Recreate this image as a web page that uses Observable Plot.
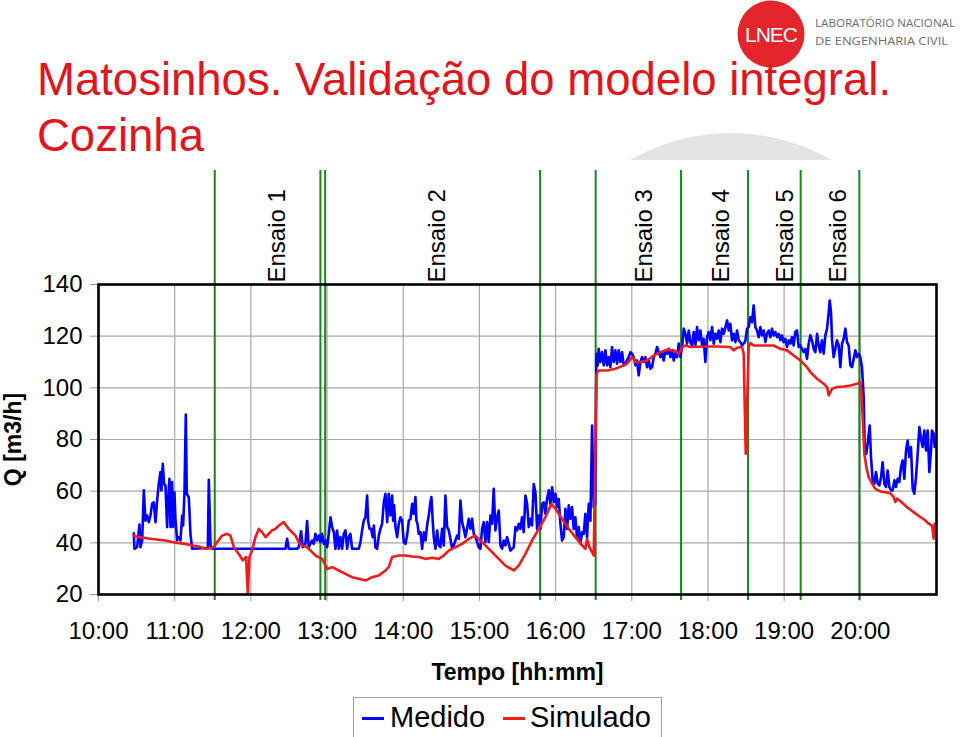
<!DOCTYPE html>
<html><head><meta charset="utf-8">
<script src="https://cdn.jsdelivr.net/npm/d3@7"></script>
<script src="https://cdn.jsdelivr.net/npm/@observablehq/plot@0.6"></script>
<style>
body{margin:0;background:#fff;font-family:"Liberation Sans",Arial,sans-serif;}
#page{position:relative;width:960px;height:737px;overflow:hidden;background:#fff;}
#header{position:absolute;left:0;top:0;}
#chart{position:absolute;left:0;top:160px;}
#chart g[aria-label="x-axis label"] text,#chart g[aria-label="y-axis label"] text{font-weight:bold;font-size:23px;}
#legend{position:absolute;left:353px;top:697px;width:309px;height:46px;border:1px solid #a0a0a0;box-sizing:border-box;background:#fff;}
#legend .sw{position:absolute;top:19px;width:22px;height:3px;}
#legend .lb{position:absolute;top:2px;font-size:29px;line-height:34px;color:#000;}
</style></head>
<body><div id="page">
<svg id="header" width="960" height="160">
  <circle cx="731" cy="335" r="202" fill="#e4e4e4"/>
  <circle cx="771" cy="34" r="33.5" fill="#e3262b"/>
  <text x="771" y="42" fill="#fff" font-size="21" text-anchor="middle" font-family="Liberation Sans, Arial, sans-serif" letter-spacing="-1">LNEC</text>
  <text x="815" y="27" fill="#6d6e71" font-size="11.6" font-family="Open Sans, sans-serif" textLength="140" lengthAdjust="spacingAndGlyphs">LABORATÓRIO NACIONAL</text>
  <text x="815" y="45" fill="#6d6e71" font-size="11.6" font-family="Open Sans, sans-serif" textLength="133" lengthAdjust="spacingAndGlyphs">DE ENGENHARIA CIVIL</text>
  <text x="37" y="95" fill="#e3141b" font-size="45.5" font-family="Liberation Sans, Arial, sans-serif">Matosinhos. Validação do modelo integral.</text>
  <text x="37" y="151" fill="#e3141b" font-size="45.5" font-family="Liberation Sans, Arial, sans-serif">Cozinha</text>
</svg>
<div id="chart"></div>
<div id="legend">
  <div class="sw" style="left:8px;background:#0000ff"></div><div class="lb" style="left:36px">Medido</div>
  <div class="sw" style="left:149px;background:#ee1c1c"></div><div class="lb" style="left:176px">Simulado</div>
</div>
</div>
<script>
// Time in decimal hours, Q in m3/h
const xTicks = [10, 11, 12, 13, 14, 15, 16, 17, 18, 19, 20];
const xDomain = [10, 21];
const yTicks = [20, 40, 60, 80, 100, 120, 140];
const yDomain = [20, 140];
const ensaioLimits = [11.526, 12.913, 12.975, 15.797, 16.526, 17.647, 18.526, 19.217, 19.987];
const ensaioLabels = ["Ensaio 1", "Ensaio 2", "Ensaio 3", "Ensaio 4", "Ensaio 5", "Ensaio 6"];
const ensaioLabelT = [12.349, 14.449, 17.165, 18.176, 19.016, 19.711];

const medido = [
[10.463,43.7],[10.472,37.7],[10.507,38.3],[10.538,47.1],[10.551,38.3],[10.573,40.9],[10.595,60.3],[10.616,48.6],
[10.638,50.6],[10.660,48.0],[10.682,50.6],[10.704,55.1],[10.726,55.7],[10.748,48.0],[10.770,56.4],[10.791,62.8],
[10.813,67.4],[10.826,60.3],[10.844,70.6],[10.861,62.8],[10.879,62.2],[10.901,46.1],[10.914,56.4],[10.931,64.8],
[10.945,46.1],[10.966,63.5],[10.980,46.1],[10.997,59.6],[11.010,49.3],[11.032,40.9],[11.054,42.2],[11.076,40.9],
[11.098,50.6],[11.111,46.7],[11.128,59.0],[11.146,89.7],[11.159,59.0],[11.185,57.7],[11.207,43.5],[11.229,37.7],
[11.435,38.0],[11.448,64.4],[11.470,39.0],[11.491,37.7],[12.454,37.7],[12.476,41.6],[12.497,37.7],[12.607,37.7],
[12.629,38.3],[12.659,44.5],[12.681,38.3],[12.716,39.6],[12.738,48.4],[12.760,38.3],[12.804,40.9],[12.826,39.6],
[12.847,43.5],[12.870,40.9],[12.892,42.8],[12.914,40.3],[12.935,43.5],[12.957,39.6],[12.979,40.9],[13.001,38.3],
[13.023,43.5],[13.045,49.9],[13.067,46.1],[13.089,44.1],[13.110,37.7],[13.132,44.8],[13.154,37.7],[13.176,42.2],
[13.198,37.7],[13.220,43.5],[13.242,44.8],[13.264,37.7],[13.285,42.2],[13.307,43.5],[13.329,37.7],[13.417,37.7],
[13.439,40.3],[13.460,44.8],[13.482,48.6],[13.504,49.9],[13.526,58.3],[13.539,48.6],[13.557,45.4],[13.579,45.4],
[13.600,42.2],[13.614,46.7],[13.635,38.3],[13.657,37.7],[13.679,42.8],[13.701,45.4],[13.723,47.4],[13.745,55.7],
[13.767,59.0],[13.789,48.0],[13.810,59.0],[13.832,50.6],[13.854,58.3],[13.867,48.6],[13.880,54.5],[13.898,46.1],
[13.920,42.2],[13.942,47.4],[13.963,49.9],[13.985,48.6],[14.007,40.3],[14.029,39.6],[14.051,42.8],[14.073,48.6],
[14.095,49.3],[14.117,55.1],[14.138,51.2],[14.160,57.7],[14.173,48.6],[14.187,47.4],[14.204,43.5],[14.226,44.1],
[14.248,37.7],[14.270,44.1],[14.292,40.9],[14.313,46.7],[14.335,50.6],[14.357,55.7],[14.370,57.7],[14.388,48.0],
[14.401,42.2],[14.423,37.7],[14.445,44.8],[14.467,39.0],[14.488,38.3],[14.510,45.4],[14.532,39.0],[14.554,58.3],
[14.576,46.1],[14.598,44.8],[14.620,41.5],[14.642,37.7],[14.663,39.0],[14.685,40.9],[14.707,42.8],[14.729,41.5],
[14.751,56.4],[14.773,48.0],[14.795,45.4],[14.816,42.2],[14.838,45.4],[14.860,49.3],[14.882,45.4],[14.904,49.3],
[14.926,43.5],[14.948,42.2],[14.970,40.3],[14.991,38.3],[15.013,37.7],[15.035,45.4],[15.057,48.0],[15.079,40.3],
[15.101,48.0],[15.123,40.3],[15.145,50.6],[15.166,47.4],[15.188,60.9],[15.210,44.8],[15.232,49.9],[15.254,52.5],
[15.276,39.0],[15.298,37.7],[15.319,40.9],[15.341,39.0],[15.363,42.2],[15.385,39.6],[15.407,37.0],[15.429,37.7],
[15.451,38.3],[15.473,46.1],[15.495,44.8],[15.516,47.4],[15.538,45.4],[15.560,49.9],[15.582,44.1],[15.604,58.3],
[15.626,55.1],[15.648,46.1],[15.670,49.3],[15.691,46.7],[15.713,62.8],[15.735,59.6],[15.757,45.4],[15.779,50.6],
[15.801,45.4],[15.823,55.1],[15.845,55.7],[15.866,51.2],[15.888,57.0],[15.910,60.3],[15.932,55.1],[15.954,61.5],
[15.976,55.7],[15.998,59.0],[16.019,53.8],[16.041,57.0],[16.063,47.4],[16.085,40.9],[16.107,42.2],[16.129,53.2],
[16.151,45.4],[16.173,54.5],[16.194,49.3],[16.216,53.8],[16.238,45.4],[16.260,49.9],[16.282,41.5],[16.304,46.1],
[16.326,39.6],[16.348,44.1],[16.369,43.5],[16.391,51.2],[16.413,42.2],[16.435,55.1],[16.457,48.6],[16.479,85.4],
[16.500,53.8],[16.520,55.0],[16.536,113.2],[16.553,108.7],[16.566,115.1],[16.588,110.0],[16.610,113.8],[16.632,108.7],
[16.654,114.5],[16.676,108.7],[16.698,111.9],[16.719,108.0],[16.741,115.8],[16.763,110.0],[16.785,114.5],[16.807,109.3],
[16.829,114.5],[16.851,110.0],[16.873,113.8],[16.894,108.7],[16.916,109.3],[16.938,110.6],[16.960,111.9],[16.982,113.8],
[17.004,113.2],[17.026,111.9],[17.048,108.7],[17.069,110.6],[17.091,104.8],[17.113,110.0],[17.135,111.9],[17.157,110.0],
[17.179,111.9],[17.201,108.0],[17.223,110.6],[17.244,107.4],[17.266,108.0],[17.288,111.9],[17.310,113.2],[17.332,115.8],
[17.354,113.8],[17.376,111.9],[17.398,113.8],[17.419,110.6],[17.441,114.5],[17.463,113.2],[17.485,115.1],[17.507,111.9],
[17.529,114.5],[17.551,110.6],[17.573,113.8],[17.594,111.9],[17.616,117.1],[17.638,111.9],[17.660,115.8],[17.682,122.9],
[17.704,120.9],[17.726,117.1],[17.748,122.2],[17.769,117.7],[17.791,116.4],[17.813,121.6],[17.835,116.4],[17.857,123.5],
[17.879,118.4],[17.901,122.2],[17.923,116.4],[17.944,119.0],[17.966,110.0],[17.988,119.6],[18.010,121.6],[18.032,118.4],
[18.054,123.5],[18.076,117.1],[18.098,120.9],[18.119,119.0],[18.141,122.2],[18.163,117.7],[18.185,122.9],[18.207,120.9],
[18.229,123.5],[18.251,126.1],[18.273,122.2],[18.294,124.8],[18.316,118.4],[18.338,120.9],[18.360,117.7],[18.382,122.2],
[18.404,118.4],[18.426,117.7],[18.448,116.4],[18.490,118.0],[18.513,122.9],[18.535,123.5],[18.557,127.4],[18.579,125.4],
[18.600,131.9],[18.622,123.5],[18.644,122.2],[18.666,119.6],[18.688,123.5],[18.710,120.3],[18.732,122.2],[18.754,117.7],
[18.775,120.9],[18.797,122.2],[18.819,119.6],[18.841,122.9],[18.863,120.3],[18.885,121.6],[18.907,119.6],[18.929,120.9],
[18.950,118.4],[18.972,120.3],[18.994,117.7],[19.016,119.0],[19.038,115.8],[19.060,118.4],[19.082,117.1],[19.104,119.6],
[19.125,116.4],[19.147,121.6],[19.169,122.2],[19.191,115.8],[19.213,116.4],[19.235,115.1],[19.257,113.8],[19.279,115.1],
[19.300,111.2],[19.322,117.1],[19.344,120.3],[19.366,118.4],[19.388,115.1],[19.410,113.8],[19.432,120.9],[19.454,116.4],
[19.475,113.8],[19.497,118.4],[19.519,113.2],[19.541,120.3],[19.563,122.9],[19.585,129.3],[19.598,133.8],[19.615,129.3],
[19.629,118.4],[19.650,111.9],[19.672,115.1],[19.694,118.4],[19.716,116.4],[19.738,108.0],[19.760,117.1],[19.782,119.0],
[19.804,122.9],[19.825,117.7],[19.847,116.4],[19.869,108.7],[19.891,108.0],[19.913,111.2],[19.935,114.5],[19.957,111.9],
[19.979,113.2],[20.000,111.9],[20.022,108.0],[20.044,96.4],[20.057,77.1],[20.079,74.5],[20.101,79.6],[20.123,85.4],
[20.140,73.2],[20.162,64.2],[20.184,62.9],[20.206,67.4],[20.228,62.9],[20.250,62.2],[20.272,65.4],[20.293,71.2],
[20.315,62.9],[20.337,61.6],[20.359,68.0],[20.381,61.6],[20.403,60.3],[20.425,60.3],[20.447,64.2],[20.468,61.6],
[20.490,64.8],[20.512,63.5],[20.534,69.3],[20.556,71.9],[20.578,64.8],[20.600,75.8],[20.621,79.6],[20.643,73.2],
[20.665,77.1],[20.687,60.9],[20.709,59.0],[20.731,65.4],[20.753,74.5],[20.775,84.8],[20.797,80.3],[20.818,77.1],
[20.840,83.5],[20.862,75.8],[20.884,83.5],[20.906,67.4],[20.928,75.8],[20.941,83.5],[20.963,82.2],[20.976,77.1]
];

const simulado = [
[10.463,42.8],[10.529,42.2],[10.616,41.9],[10.704,41.5],[10.791,41.2],[10.879,40.9],[10.966,40.3],[11.054,39.9],
[11.141,39.6],[11.229,39.0],[11.316,38.6],[11.404,37.7],[11.470,37.9],[11.513,38.3],[11.557,40.3],[11.623,42.8],
[11.688,43.5],[11.732,42.8],[11.776,38.3],[11.841,35.7],[11.894,33.2],[11.938,34.5],[11.951,25.4],[11.960,20.3],
[11.968,25.4],[11.981,34.5],[12.016,37.0],[12.060,42.2],[12.104,45.4],[12.148,44.1],[12.191,42.2],[12.235,43.5],
[12.279,44.8],[12.323,45.4],[12.366,46.7],[12.432,48.0],[12.497,45.4],[12.541,44.1],[12.585,42.8],[12.629,40.3],
[12.672,39.0],[12.738,38.3],[12.804,36.4],[12.848,35.1],[12.935,33.8],[13.001,29.9],[13.067,30.6],[13.154,29.3],
[13.242,28.0],[13.329,26.7],[13.417,26.1],[13.504,25.4],[13.592,26.7],[13.679,27.4],[13.767,29.3],[13.810,30.6],
[13.854,34.5],[13.942,35.1],[14.029,35.1],[14.117,34.7],[14.204,34.5],[14.292,33.8],[14.379,34.2],[14.467,33.8],
[14.532,35.1],[14.598,37.0],[14.685,38.3],[14.773,39.6],[14.860,41.5],[14.939,42.8],[14.991,41.5],[15.079,39.0],
[15.166,36.4],[15.254,33.8],[15.341,31.2],[15.451,29.3],[15.516,31.2],[15.604,35.7],[15.691,40.9],[15.779,45.4],
[15.866,49.9],[15.945,55.1],[15.998,53.2],[16.085,49.3],[16.173,45.4],[16.260,42.2],[16.348,39.0],[16.391,37.7],
[16.413,41.5],[16.444,38.3],[16.501,35.1],[16.536,105.4],[16.566,106.7],[16.676,106.7],[16.785,107.4],[16.894,108.7],
[16.938,109.3],[17.004,111.9],[17.048,110.0],[17.113,110.0],[17.201,110.6],[17.288,112.5],[17.376,113.8],[17.463,114.7],
[17.551,114.5],[17.616,113.2],[17.660,115.8],[17.704,116.4],[17.769,115.8],[17.944,116.0],[18.119,116.0],[18.294,115.8],
[18.338,114.5],[18.382,115.5],[18.448,115.8],[18.469,113.2],[18.483,92.5],[18.496,74.5],[18.513,92.5],[18.535,115.8],
[18.557,117.3],[18.600,116.4],[18.775,116.4],[18.863,116.4],[18.950,115.1],[19.038,114.5],[19.125,112.5],[19.213,110.6],
[19.300,108.0],[19.344,106.1],[19.432,103.5],[19.519,101.6],[19.563,100.3],[19.585,97.1],[19.607,98.3],[19.629,99.6],
[19.694,100.3],[19.782,100.5],[19.869,100.9],[19.957,101.6],[20.000,102.2],[20.014,99.0],[20.035,86.1],[20.053,74.5],
[20.079,69.3],[20.110,65.4],[20.154,62.9],[20.197,60.9],[20.263,59.9],[20.329,59.6],[20.394,59.2],[20.438,57.7],
[20.460,55.8],[20.482,57.1],[20.525,56.2],[20.613,53.8],[20.700,51.9],[20.788,50.0],[20.853,48.7],[20.897,47.4],
[20.941,46.7],[20.963,41.6],[20.976,47.4]
];

const chart = Plot.plot({
  width: 960,
  height: 537,
  marginTop: 124,
  marginLeft: 98,
  marginRight: 24,
  marginBottom: 103,
  style: {fontFamily: "Liberation Sans, Arial, sans-serif", fontSize: "24px", background: "transparent", overflow: "visible", color: "#000"},
  x: {type: "linear", domain: xDomain},
  y: {type: "linear", domain: yDomain},
  marks: [
    Plot.gridX(xTicks, {stroke: "#a8a8a8", strokeOpacity: 1, strokeWidth: 1.2}),
    Plot.gridY(yTicks, {stroke: "#a8a8a8", strokeOpacity: 1, strokeWidth: 1.2}),
    Plot.axisX(xTicks, {tickFormat: d => `${d}:00`, tickSize: 7, tickPadding: 20, stroke: "#999", fontSize: 24,
      label: "Tempo [hh:mm]", labelAnchor: "center", labelArrow: "none", labelOffset: 85}),
    Plot.axisY(yTicks, {tickSize: 8, tickPadding: 8, stroke: "#999", fontSize: 24,
      label: "Q [m3/h]", labelAnchor: "center", labelArrow: "none", labelOffset: 94}),
    Plot.ruleX(ensaioLimits, {stroke: "#1a861a", strokeWidth: 2, insetTop: -114, insetBottom: -6}),
    Plot.text(ensaioLabels, {x: ensaioLabelT, text: d => d, frameAnchor: "top", rotate: -90, textAnchor: "start", lineAnchor: "middle", dy: -2, fontSize: 24, fill: "#000"}),
    Plot.line(medido, {x: d => d[0], y: d => d[1], stroke: "#0000ff", strokeWidth: 2.6, strokeLinejoin: "round"}),
    Plot.line(simulado, {x: d => d[0], y: d => d[1], stroke: "#ee1c1c", strokeWidth: 2.6, strokeLinejoin: "round"}),
    Plot.frame({stroke: "#000", strokeWidth: 2.6})
  ]
});
document.getElementById("chart").appendChild(chart);
</script>
</body></html>
